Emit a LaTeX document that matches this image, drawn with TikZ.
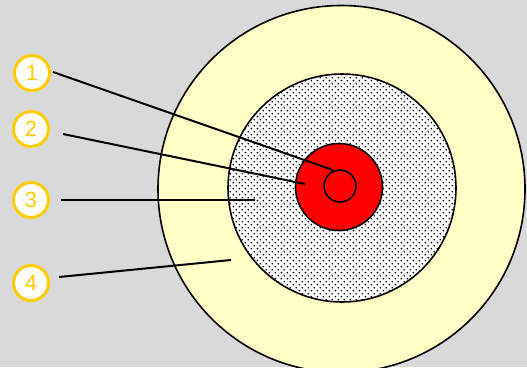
\documentclass[tikz,border=0pt]{standalone}
\usepackage{fontspec}
\setmainfont{Liberation Sans}
\usetikzlibrary{patterns}
\pgfdeclarepatternformonly{bigdots}{\pgfpointorigin}{\pgfqpoint{5.8pt}{5.8pt}}{\pgfqpoint{5.8pt}{5.8pt}}{%
  \pgfpathcircle{\pgfqpoint{1.45pt}{1.45pt}}{0.95pt}
  \pgfpathcircle{\pgfqpoint{4.35pt}{4.35pt}}{0.95pt}
  \pgfusepath{fill}}
\definecolor{bg}{HTML}{D9D9D9}
\definecolor{lightyel}{HTML}{FFFFC6}
\definecolor{gold}{HTML}{FFCC00}
\tikzset{
  numlabel/.style={circle, draw=gold, line width=3pt, fill=white, text=gold,
    minimum size=35pt, inner sep=0pt, font=\fontsize{22}{22}\selectfont},
  leader/.style={line width=2pt, black},
  ring/.style={line width=1.6pt, draw=black}
}
\begin{document}
\begin{tikzpicture}[x=1pt,y=-1pt]
\fill[bg] (0,0) rectangle (527,367);
\useasboundingbox (0,0) rectangle (527,367);
\begin{scope}
\clip (0,0) rectangle (527,367);
\draw[ring, fill=lightyel] (341.5,189) circle[radius=183.5];
\fill[white] (342,188) circle[radius=114];
\fill[pattern=bigdots, pattern color=black] (342,188) circle[radius=114];
\draw[ring] (342,188) circle[radius=114];
\draw[ring, fill=red] (339,187) circle[radius=43.5];
\draw[ring] (340,186) circle[radius=16];
\end{scope}
\node[numlabel] (n1) at (32,73) {1};
\node[numlabel] (n2) at (31,129) {2};
\node[numlabel] (n3) at (31,200) {3};
\node[numlabel] (n4) at (31,283) {4};
\coordinate (e1) at (333,170);
\coordinate (e2) at (305,184);
\coordinate (e3) at (255,200);
\coordinate (e4) at (231,260);
\coordinate (s1) at (53,72);
\coordinate (s2) at (63,134);
\coordinate (s3) at (61,200);
\coordinate (s4) at (59,277);
\draw[leader] (s1) -- (e1);
\draw[leader] (s2) -- (e2);
\draw[leader] (s3) -- (e3);
\draw[leader] (s4) -- (e4);
\end{tikzpicture}
\end{document}
